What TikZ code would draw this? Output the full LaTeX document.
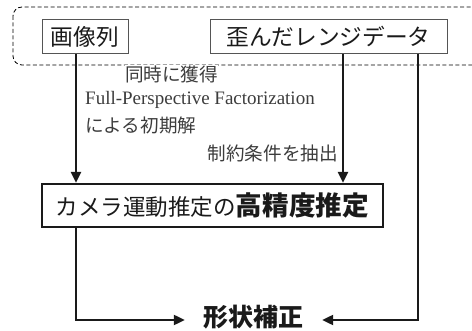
\documentclass[tikz,border=0pt]{standalone}
\usepackage{fontspec}
\setmainfont{Liberation Serif}
\newfontfamily\jp{Noto Sans CJK JP}
\usetikzlibrary{arrows.meta}
\definecolor{ink}{HTML}{1A1A1A}
\definecolor{thin}{HTML}{555555}
\begin{document}
\begin{tikzpicture}[x=1pt,y=-1pt,
  arr/.style={line width=2.2pt,draw=ink,-{Triangle[length=11pt,width=10pt]}},
  topbox/.style={draw=thin,line width=0.9pt,minimum height=34pt,inner sep=0pt,font=\jp\fontsize{22.7}{24}\selectfont,text=ink},
  lbl/.style={inner sep=0pt,font=\jp\fontsize{18.6}{20}\selectfont,text=ink!85},
  latlbl/.style={inner sep=0pt,font=\rmfamily\fontsize{19}{21}\selectfont,text=ink!85}]
\useasboundingbox (0,0) rectangle (472,331);
\begin{scope}
\clip (0,0) rectangle (472,331);
\draw[thin,line width=0.8pt,dash pattern=on 4pt off 2.5pt,rounded corners=9pt] (13,7) rectangle (490,65);
\end{scope}
\node[fill=white,inner xsep=9pt,inner ysep=3pt,lbl] (sync) at (171.5,74) {同時に獲得};
\node[topbox,minimum width=86pt] (img) at (85,36.5) {画像列};
\node[topbox,minimum width=237pt] (rng) at (328.5,36.5) {歪んだレンジデータ};
\node[draw=ink,line width=2.2pt,minimum width=341pt,minimum height=43pt,inner sep=0pt,text=ink] (main) at (212.5,205.5)
  {{\jp\fontsize{22.5}{24}\selectfont カメラ運動推定の}{\jp\bfseries\fontsize{26.6}{28}\selectfont 高精度推定}};
\node[inner sep=0pt,minimum width=137pt,minimum height=26pt,text=ink,font=\jp\bfseries\fontsize{25}{27}\selectfont] (shape) at (253.5,317) {形状補正};
\node[latlbl,anchor=west] (fpf) at (85,100) {Full-Perspective Factorization};
\node[lbl,anchor=west] (init) at (85,125) {による初期解};
\node[lbl,anchor=east] (cons) at (338,153) {制約条件を抽出};
\coordinate (xa) at (76,0);
\coordinate (xb) at (343,0);
\coordinate (xc) at (418,0);
\coordinate (yb) at (0,320);
\draw[arr] (img.south -| xa) -- (main.north -| xa);
\draw[arr] (rng.south -| xb) -- (main.north -| xb);
\draw[arr] (rng.south -| xc) -- (xc |- yb) -- (shape.east |- yb);
\draw[arr] (main.south -| xa) -- (xa |- yb) -- (shape.west |- yb);
\end{tikzpicture}
\end{document}
